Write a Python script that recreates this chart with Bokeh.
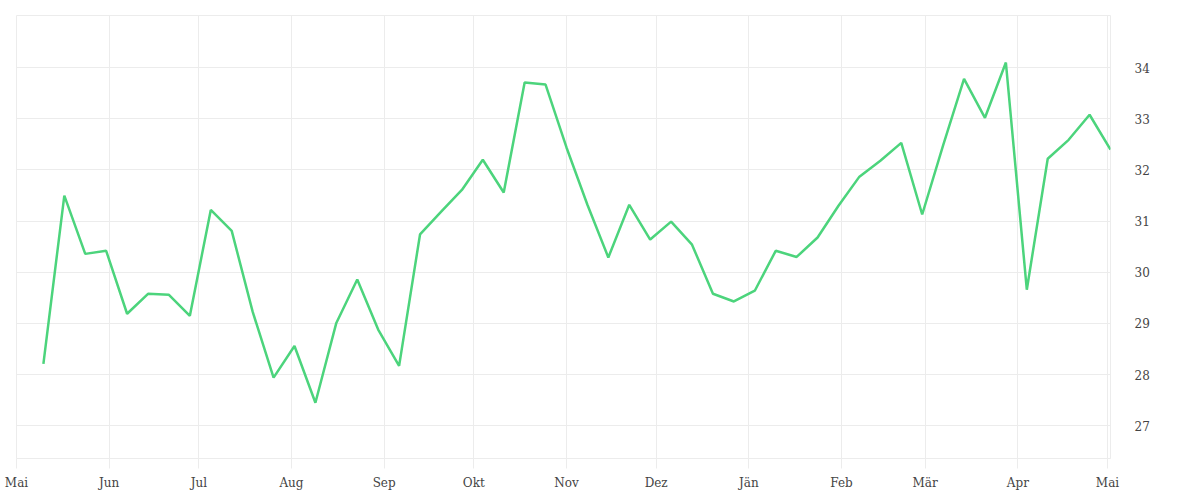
import datetime as dt
import pandas as pd
from bokeh.plotting import figure
from bokeh.models import FixedTicker, Range1d, ColumnDataSource
from bokeh.embed import file_html
from bokeh.resources import INLINE

# Weekly series (starting 2018-05-10)
start_date = "2018-05-10"
values = [28.21, 31.50, 30.36, 30.42, 29.19, 29.58, 29.56, 29.15, 31.22, 30.81,
          29.23, 27.94, 28.56, 27.45, 29.01, 29.86, 28.88, 28.17, 30.74, 31.18,
          31.61, 32.20, 31.56, 33.71, 33.67, 32.44, 31.32, 30.29, 31.32, 30.64,
          30.99, 30.54, 29.58, 29.43, 29.64, 30.42, 30.30, 30.68, 31.30, 31.87,
          32.18, 32.53, 31.13, 32.48, 33.78, 33.02, 34.10, 29.66, 32.22, 32.59,
          33.08, 32.40]

month_starts = ["2018-05-01", "2018-06-01", "2018-07-01", "2018-08-01", "2018-09-01",
                "2018-10-01", "2018-11-01", "2018-12-01", "2019-01-01", "2019-02-01",
                "2019-03-01", "2019-04-01", "2019-05-01"]
month_labels = ["Mai", "Jun", "Jul", "Aug", "Sep", "Okt", "Nov", "Dez", "Jän", "Feb",
                "Mär", "Apr", "Mai"]
y_ticks = [27, 28, 29, 30, 31, 32, 33, 34]

dates = pd.date_range(start_date, periods=len(values), freq="7D")
src = ColumnDataSource(dict(x=dates, y=values))

def ms(s):
    return pd.Timestamp(s).value / 1e6

tick_ms = [ms(s) for s in month_starts]

x_start = ms(month_starts[0])
x_end = dates[-1].value / 1e6

FONT = "DejaVu Serif"
GRID = "#ececec"

p = figure(width=1200, height=500, x_axis_type="datetime",
           x_range=Range1d(x_start, x_end), y_range=Range1d(26.36, 35.02),
           output_backend="svg", toolbar_location=None,
           min_border_left=16, min_border_right=90, min_border_top=15, min_border_bottom=42,
           y_axis_location="right")

p.line("x", "y", source=src, line_color="#4cd47c", line_width=2.5)

p.outline_line_color = GRID
p.outline_line_width = 1
p.background_fill_color = "white"
p.border_fill_color = "white"

xa = p.xaxis[0]
xa.ticker = FixedTicker(ticks=tick_ms)
xa.major_label_overrides = {t: l for t, l in zip(tick_ms, month_labels)}
xa.axis_line_color = GRID
xa.major_tick_line_color = GRID
xa.major_tick_out = 10
xa.major_tick_in = 0
xa.minor_tick_line_color = None
xa.major_label_standoff = 7
xa.major_label_text_font = FONT
xa.major_label_text_font_size = "12px"
xa.major_label_text_color = "#444444"

ya = p.yaxis[0]
ya.ticker = FixedTicker(ticks=y_ticks)
ya.axis_line_color = None
ya.major_tick_line_color = None
ya.minor_tick_line_color = None
ya.major_label_standoff = 18
ya.major_label_text_font = FONT
ya.major_label_text_font_size = "12px"
ya.major_label_text_color = "#444444"

p.xgrid.ticker = FixedTicker(ticks=tick_ms)
p.xgrid.grid_line_color = GRID
p.ygrid.ticker = FixedTicker(ticks=y_ticks)
p.ygrid.grid_line_color = GRID

open("out.html", "w").write(file_html(p, INLINE))
